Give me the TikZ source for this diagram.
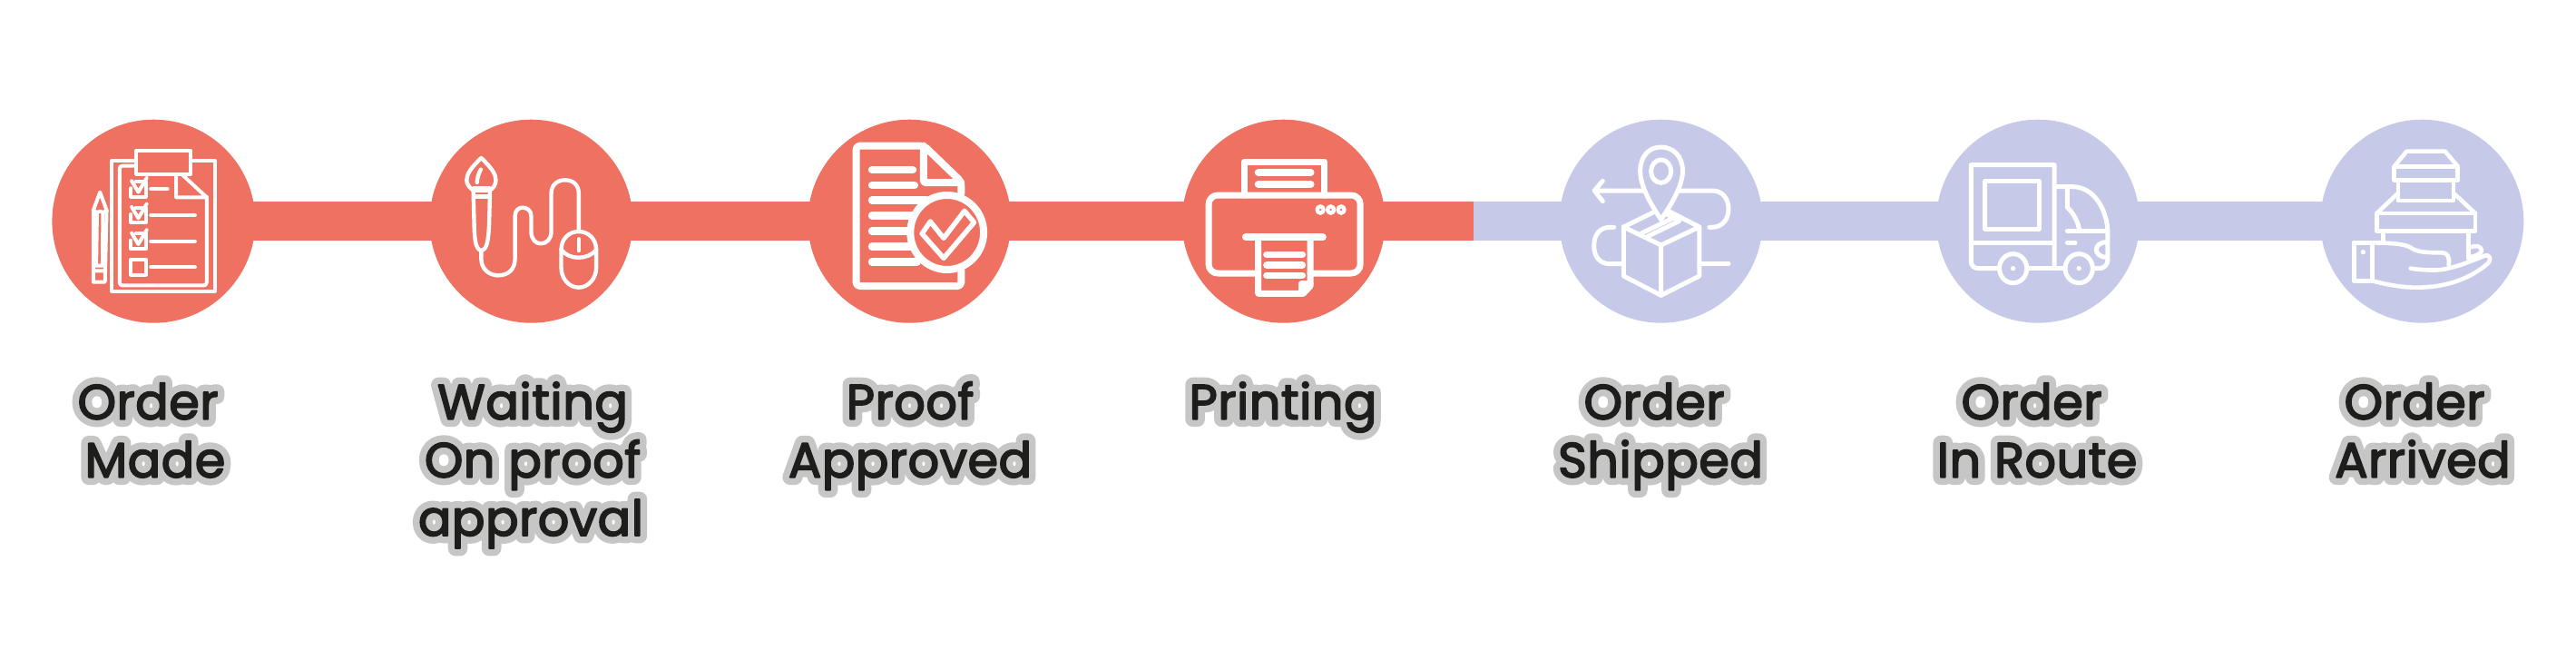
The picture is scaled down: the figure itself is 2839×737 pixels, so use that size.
\documentclass[tikz,border=0pt]{standalone}
\usepackage{fontspec}
\newfontfamily\labelfont[FakeBold=3.2,LetterSpace=1.0]{Poppins}
\newfontfamily\halofont[FakeBold=31,LetterSpace=1.0]{Poppins}
\definecolor{salmon}{HTML}{EE7162}
\definecolor{lilac}{HTML}{C6CAE8}
\definecolor{inkdark}{HTML}{1D1D1B}
\definecolor{halogray}{HTML}{C6C6C6}
\newcommand{\halotext}[1]{\leavevmode\rlap{\halofont\color{halogray}#1}{\labelfont\color{inkdark}#1}}
\tikzset{
  x=1pt,y=-1pt,
  disc/.style={circle,inner sep=0pt,minimum size=224pt,fill=#1},
  bar/.style={line width=42.7pt,draw=#1},
  seam/.style={shorten >=0.35pt},
  icon/.style={draw=white,line width=#1,line cap=round,line join=round},
  lab/.style={anchor=base,inner sep=0pt,line join=round,font=\fontsize{54}{64}\selectfont},
  zoomA/.style={shift={(#1,100)},x=0.4592pt,y=-0.33333pt},
  zoomB/.style={shift={(#1,100)},x=0.33333pt,y=-0.33333pt},
}
\begin{document}
\begin{tikzpicture}
\useasboundingbox (0,0) rectangle (2839,737);
% discs
\node[disc=salmon] (c1) at (169.4,243.7) {};
\node[disc=salmon] (c2) at (585.4,243.7) {};
\node[disc=salmon] (c3) at (1002.3,243.7) {};
\node[disc=salmon] (c4) at (1414.6,243.7) {};
\node[disc=lilac] (c5) at (1830.6,243.7) {};
\node[disc=lilac] (c6) at (2246,243.7) {};
\node[disc=lilac] (c7) at (2669.3,243.7) {};
\coordinate (s1) at (378,243.7);
\coordinate (s3) at (1208,243.7);
\coordinate (s4) at (1624,243.7);
\coordinate (s5) at (2038,243.7);
\coordinate (s6) at (2453,243.7);
% connectors
\draw[bar=salmon,seam] (c1.center) -- (s1);
\draw[bar=salmon] (s1) -- (c2.center);
\draw[bar=salmon] (c2.center) -- (c3.center);
\draw[bar=salmon,seam] (c3.center) -- (s3);
\draw[bar=salmon] (s3) -- (c4.center);
\draw[bar=salmon] (c4.center) -- (s4);
\draw[bar=lilac] (s4) -- (c5.center);
\draw[bar=lilac,seam] (c5.center) -- (s5);
\draw[bar=lilac] (s5) -- (c6.center);
\draw[bar=lilac,seam] (c6.center) -- (s6);
\draw[bar=lilac] (s6) -- (c7.center);
% icon 1: checklist and pencil
\begin{scope}[zoomA=0,icon=4pt]
  \draw (327,231)--(268,231)--(268,662)--(516,662)--(516,231)--(458,231);
  \draw (327,198) rectangle (458,275);
  \draw[rounded corners=3pt] (327,248)--(287,248)--(287,643)--(496,643)--(496,350);
  \draw (423,278)--(423,352)--(496,352)--(438,278);
  \foreach \d in {0,86,172}{
    \draw[yshift=-\d*0.33333pt] (314,322)--(314,350)--(350,350)--(350,300)--(326,300);
    \draw[yshift=-\d*0.33333pt] (316,298)--(332,335)--(352,288);
  }
  \draw (314,558) rectangle (350,608);
  \draw (362,325)--(402,325) (362,411)--(468,411) (362,497)--(468,497) (362,583)--(468,583);
  \draw (224,395)--(240,335)--(256,395)--(252,632)--(224,632)--cycle;
  \draw (224,395)--(232,402)--(240,398)--(248,402)--(256,395);
  \draw (233,402)--(231,578) (247,402)--(246,578) (224,578)--(252,578) (224,595)--(252,595);
\end{scope}
% icon 2: brush and mouse
\begin{scope}[zoomA=0,icon=4.4pt]
  \draw (1155,222) .. controls (1130,255) and (1120,275) .. (1120,295) .. controls (1120,310) and (1128,322) .. (1137,330) -- (1175,330) .. controls (1184,322) and (1190,310) .. (1190,295) .. controls (1190,275) and (1180,255) .. (1155,222);
  \draw (1154,260) .. controls (1148,275) and (1145,290) .. (1145,303);
  \draw (1137,322) -- (1175,322) (1137,350) -- (1174,350);
  \draw (1136,330) -- (1138,440) .. controls (1139,490) and (1141,525) .. (1155,528) .. controls (1170,525) and (1172,490) .. (1174,440) -- (1176,330);
  \draw (1155,528)--(1155,555) .. controls (1155,590) and (1175,610) .. (1195,610) .. controls (1220,610) and (1236,590) .. (1236,555) -- (1236,415) .. controls (1236,395) and (1245,386) .. (1254,386) .. controls (1265,386) and (1275,395) .. (1275,415) -- (1275,465) .. controls (1275,490) and (1285,505) .. (1298,505) .. controls (1312,505) and (1323,490) .. (1323,465) -- (1323,340) .. controls (1323,310) and (1338,295) .. (1356,295) .. controls (1375,295) and (1389,310) .. (1389,340) -- (1389,465);
  \draw (1347,525) .. controls (1347,490) and (1365,465) .. (1389,465) .. controls (1412,465) and (1431,490) .. (1431,525) -- (1431,585) .. controls (1431,620) and (1412,650) .. (1389,650) .. controls (1365,650) and (1347,620) .. (1347,585) -- cycle;
  \draw (1347,525) .. controls (1365,560) and (1412,560) .. (1431,525);
  \draw (1389,490)--(1389,528);
\end{scope}
% icon 3: document with check
\begin{scope}[zoomA=860,icon=8pt]
  \draw[rounded corners=4pt] (434,340)--(434,300)--(345,182)--(182,182)--(182,645)--(434,645)--(434,592);
  \draw[rounded corners=2pt] (344,182)--(344,303)--(434,303);
  \draw[line width=8.5pt] (220,261)--(318,261) (220,312)--(322,312) (220,362)--(350,362) (220,413)--(318,413) (220,464)--(306,464) (220,515)--(312,515) (220,566)--(328,566);
  \draw (400,468) ellipse [x radius=88,y radius=123];
  \draw[line width=5.5pt] (360,432)--(392,487)--(442,397)--(465,435)--(392,553)--(340,472)--cycle;
\end{scope}
% icon 4: printer
\begin{scope}[zoomA=860,icon=7pt]
  \draw (1113,345)--(1113,234)--(1306,234)--(1306,345);
  \draw[line width=8pt] (1147,270)--(1273,270) (1147,309)--(1273,309);
  \draw[rounded corners=10pt] (1147,603)--(1028,603)--(1028,345)--(1392,345)--(1392,603)--(1272,603);
  \fill[white] (1296,393) ellipse [x radius=12,y radius=18] (1321,393) ellipse [x radius=12,y radius=18] (1346,393) ellipse [x radius=12,y radius=18];
  \fill[salmon] (1296,393) ellipse [x radius=3,y radius=4] (1321,393) ellipse [x radius=3,y radius=4] (1346,393) ellipse [x radius=3,y radius=4];
  \draw[line width=8pt] (1117,484)--(1302,484);
  \draw (1147,484)--(1147,670)--(1255,670)--(1272,645)--(1272,484);
  \draw (1250,668)--(1250,638)--(1272,638);
  \draw[line width=7.5pt] (1167,541)--(1253,541) (1167,576)--(1253,576) (1167,610)--(1253,610);
\end{scope}
% icon 5: parcel and pin
\begin{scope}[zoomA=1680,icon=5pt]
  \draw (328,425) .. controls (300,370) and (278,310) .. (278,265) .. controls (278,215) and (300,186) .. (328,186) .. controls (356,186) and (380,215) .. (380,265) .. controls (380,310) and (356,370) .. (328,425) -- cycle;
  \draw (328,266) ellipse [x radius=24,y radius=38];
  \draw (285,330)--(170,330) (188,298)--(168,330)--(188,365);
  \draw (372,330)--(450,330) .. controls (475,330) and (490,355) .. (490,390) .. controls (490,425) and (475,451) .. (450,451) -- (444,451);
  \draw (312,400)--(238,450)--(328,510)--(420,450)--(345,397);
  \draw (238,450)--(238,612)--(328,676)--(420,612)--(420,450) (328,510)--(328,676);
  \draw (282,470)--(358,420) (296,481)--(372,430)--(342,408);
  \draw (215,451)--(205,451) .. controls (182,451) and (167,475) .. (167,512) .. controls (167,550) and (182,572) .. (205,572) -- (238,572);
  \draw (420,572)--(490,572);
\end{scope}
% icon 6: truck
\begin{scope}[zoomA=1680,icon=5pt]
  \draw (1272,587)--(1272,245)--(1072,245)--(1072,565) .. controls (1072,578) and (1080,587) .. (1090,587) -- (1140,587);
  \draw (1106,298) rectangle (1235,456);
  \draw (1072,502)--(1272,502);
  \draw (1208,587)--(1298,587);
  \draw (1173,587) ellipse [x radius=33,y radius=48] (1331,587) ellipse [x radius=33,y radius=48];
  \fill[white] (1173,587) ellipse [x radius=6,y radius=8] (1331,587) ellipse [x radius=6,y radius=8];
  \draw (1272,317)--(1315,317) .. controls (1370,317) and (1400,400) .. (1400,470) -- (1400,560) .. controls (1400,575) and (1390,587) .. (1380,587) -- (1365,587);
  \draw (1303,320)--(1303,385) .. controls (1318,405) and (1330,435) .. (1332,462);
  \draw (1303,464)--(1400,464) (1303,502)--(1322,502);
  \draw (1398,500) .. controls (1364,500) and (1364,550) .. (1398,550);
\end{scope}
% icon 7: boxes on a hand
\begin{scope}[zoomB=2400,icon=4.6pt]
  \draw (716,250)--(926,250)--(926,295)--(716,295)--cycle;
  \draw (716,250)--(757,200)--(884,200)--(926,250);
  \draw (729,295)--(729,363)--(912,363)--(912,295);
  \draw (658,405)--(984,405)--(984,463)--(658,463)--cycle;
  \draw (658,405)--(729,338) (984,405)--(912,338);
  \draw (680,463)--(680,500) (962,463)--(962,555);
  \draw (583,502) rectangle (643,628);
  \fill[white] (613,533) circle [radius=8];
  \draw (583,502)--(643,502) .. controls (700,503) and (750,505) .. (770,518) .. controls (790,533) and (820,535) .. (875,535) .. controls (892,535) and (900,550) .. (896,575);
  \draw (770,587) .. controls (800,592) and (850,595) .. (880,590) .. controls (930,580) and (970,563) .. (1015,545) .. controls (1035,540) and (1040,560) .. (1020,575) .. controls (960,625) and (880,650) .. (790,650) .. controls (740,650) and (690,640) .. (643,628);
  \draw (965,518) .. controls (985,510) and (1003,510) .. (1005,530) .. controls (1000,540) and (985,546) .. (965,550);
\end{scope}
% labels
\begin{scope}[line join=round]
\node[lab] (l1a) at (163,461.7) {\halotext{Order}};
\node[lab] (l1b) at (171,525.7) {\halotext{Made}};
\node[lab] (l2a) at (587,461.7) {\halotext{Waiting}};
\node[lab] (l2b) at (587,525.7) {\halotext{On proof}};
\node[lab] (l2c) at (585,590) {\halotext{approval}};
\node[lab] (l3a) at (1003,461.7) {\halotext{Proof}};
\node[lab] (l3b) at (1003,525.7) {\halotext{Approved}};
\node[lab] (l4a) at (1414,461.7) {\halotext{Printing}};
\node[lab] (l5a) at (1823,461.7) {\halotext{Order}};
\node[lab] (l5b) at (1830,525.7) {\halotext{Shipped}};
\node[lab] (l6a) at (2239,461.7) {\halotext{Order}};
\node[lab] (l6b) at (2245,525.7) {\halotext{In Route}};
\node[lab] (l7a) at (2661,461.7) {\halotext{Order}};
\node[lab] (l7b) at (2670,525.7) {\halotext{Arrived}};
\end{scope}
\end{tikzpicture}
\end{document}
